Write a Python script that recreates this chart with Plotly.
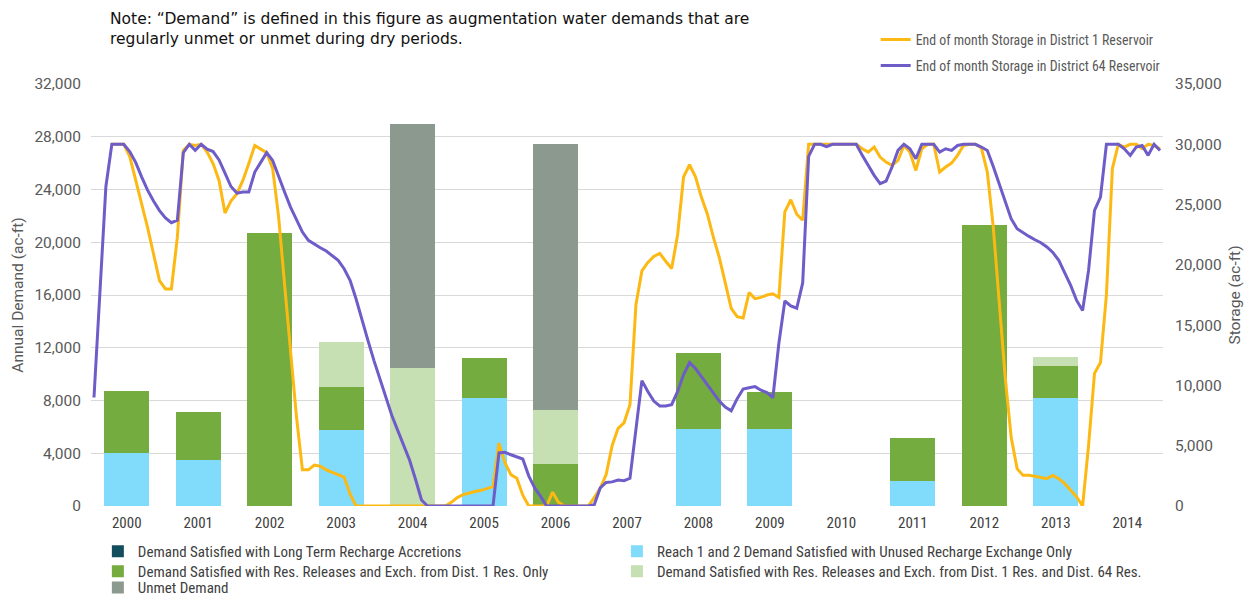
import plotly.graph_objects as go

years = [str(y) for y in range(2000, 2015)]

# Annual demand components (ac-ft)
long_term = [0] * 15
reach12 = [4040, 3490, 0, 5740, 0, 8165, 0, 0, 5840, 5815, 0, 1900, 0, 8210, 0]
dist1_only = [4680, 3610, 20720, 3260, 0, 3030, 3160, 0, 5740, 2850, 0, 3280, 21300, 2430, 0]
dist1_64 = [0, 0, 0, 3450, 10440, 0, 4120, 0, 0, 0, 0, 0, 0, 680, 0]
unmet = [0, 0, 0, 0, 18500, 0, 20190, 0, 0, 0, 0, 0, 0, 0, 0]

# End of month storage (ac-ft), Jan 2000 - Dec 2014
storage_d1 = [
    None, None, None, 30000, 30000, 30000, 29000, 27000, 25200, 23100, 20900, 18700,
    18000, 18000, 22300, 29500, 30000, 29900, 30000, 29350, 28400, 27000, 24300, 25300,
    25900, 27000, 28400, 29900, 29600, 29300, 28000, 24000, 18400, 12900, 7400, 3000,
    3000, 3400, 3300, 3000, 2800, 2650, 2400, 1000, 0, 0, 0, 0,
    0, 0, 0, 0, 0, 0, 0, 0, 0, 0, 0, 0,
    300, 700, 950, 1100, 1200, 1300, 1450, 1600, 5200, 3600, 2600, 2300,
    900, 0, 0, 0, 0, 1150, 300, 0, 0, 0, 0, 0,
    700, 1470, 2600, 5000, 6440, 6900, 8400, 16700, 19500, 20200, 20700, 20950,
    20300, 19700, 22500, 27300, 28300, 27300, 25600, 24200, 22300, 20600, 18500, 16400,
    15700, 15600, 17700, 17200, 17300, 17500, 17600, 17300, 24400, 25400, 24200, 23700,
    30000, 30000, 30000, 30000, 30000, 30000, 30000, 30000, 30000, 29630, 29350, 29770,
    28940, 28520, 28250, 28660, 29900, 29350, 27830, 29630, 30000, 30000, 27700, 28110,
    28440, 29080, 29900, 30000, 30000, 29700, 27700, 23130, 17050, 10700, 5720, 3100,
    2540, 2540, 2460, 2350, 2270, 2540, 2270, 1850, 1300, 750, 0, 5000,
    11000, 11900, 17500, 28000, 30000, 29770, 30000, 30000, 29630, 30000, 29900, 29600,
]
storage_d64 = [
    9000, 18000, 26500, 30000, 30000, 30000, 29400, 28500, 27300, 26200, 25300, 24500,
    23900, 23500, 23700, 29300, 30000, 29500, 30000, 29600, 29400, 28700, 27600, 26500,
    25950, 26050, 26050, 27700, 28500, 29300, 28660, 27280, 26040, 24790, 23690, 22720,
    22030, 21700, 21420, 21150, 20790, 20370, 19680, 18710, 17190, 15400, 13740, 12080,
    10560, 8900, 7520, 6270, 5030, 3790, 2200, 500, 0, 0, 0, 0,
    0, 0, 0, 0, 0, 0, 0, 0, 4400, 4450, 4250, 4100,
    3900, 2500, 1500, 800, 0, 0, 0, 0, 0, 0, 0, 0,
    100, 1500, 1950, 2000, 2150, 2100, 2300, 6500, 10400, 9500, 8700, 8300,
    8300, 8400, 9500, 10900, 11900, 11400, 10700, 10000, 9400, 8700, 8200, 7900,
    8900, 9700, 9800, 9900, 9600, 9400, 9000, 13500, 17000, 16600, 16400, 18500,
    29000, 30000, 30000, 29800, 30000, 30000, 30000, 30000, 30000, 29080, 28250, 27420,
    26730, 26950, 28110, 29490, 30000, 29630, 28800, 30000, 30000, 30000, 29350, 29630,
    29490, 29900, 30000, 30000, 30000, 29770, 29490, 28160, 26670, 25210, 23830, 23000,
    22660, 22360, 22080, 21840, 21480, 21030, 20370, 19400, 18300, 17050, 16220, 19540,
    24520, 25620, 30000, 30000, 30000, 29630, 29080, 29770, 29900, 29080, 30000, 29490,
]

year_pos = list(range(len(years)))
month_pos = [-0.5 + (m + 0.5) / 12 for m in range(len(storage_d64))]

NARROW = "Roboto Condensed, Liberation Sans Narrow, DejaVu Sans Condensed, sans-serif"
REG = "Roboto, Liberation Sans, Arial, sans-serif"
GRAY = "#595959"

fig = go.Figure()
# (name, values, colour, legend id)
bar_specs = [
    ("Demand Satisfied with Long Term Recharge Accretions", long_term, "#124E5E", "legend"),
    ("Reach 1 and 2 Demand Satisfied with Unused Recharge Exchange Only", reach12, "#80DCFA", "legend3"),
    ("Demand Satisfied with Res. Releases and Exch. from Dist. 1 Res. Only", dist1_only, "#74AC3F", "legend4"),
    ("Demand Satisfied with Res. Releases and Exch. from Dist. 1 Res. and Dist. 64 Res.", dist1_64, "#C6DFB3", "legend5"),
    ("Unmet Demand", unmet, "#8C998E", "legend6"),
]
for name, vals, col, leg in bar_specs:
    fig.add_trace(go.Bar(x=year_pos, y=vals, name=name, marker=dict(color=col, line=dict(width=0)),
                         width=0.63, legend=leg))

fig.add_trace(go.Scatter(x=month_pos, y=storage_d1, mode="lines", name="End of month Storage in District 1 Reservoir",
                         line=dict(color="#FDB913", width=3), yaxis="y2", legend="legend2", legendgroup="d1"))
fig.add_trace(go.Scatter(x=month_pos, y=storage_d64, mode="lines", name="End of month Storage in District 64 Reservoir",
                         line=dict(color="#6E5CC8", width=3), yaxis="y2", legend="legend2", legendgroup="d64"))


def bottom_legend(x, y):
    return dict(orientation="v", x=x, y=y, xanchor="left", yanchor="top",
                font=dict(family=NARROW, size=15, color="#404040"), bgcolor="rgba(0,0,0,0)")


fig.update_layout(
    width=1250, height=598,
    margin=dict(l=91, r=87, t=84, b=92, autoexpand=False),
    barmode="stack",
    plot_bgcolor="white", paper_bgcolor="white",
    font=dict(family=NARROW, color=GRAY, size=13),
    xaxis=dict(range=[-0.5, 14.5], tickmode="array", tickvals=year_pos, ticktext=years,
               showgrid=False, zeroline=False, showline=False, ticks="", ticklabelstandoff=6,
               tickfont=dict(family=NARROW, size=15, color="#404040")),
    yaxis=dict(range=[0, 32000], tickvals=list(range(0, 32001, 4000)), tickformat=",",
               showgrid=True, gridcolor="#D9D9D9", gridwidth=1, zeroline=False, ticklabelstandoff=9,
               title=dict(text="Annual Demand (ac-ft)", font=dict(family=REG, size=15.5, color=GRAY), standoff=6),
               tickfont=dict(family=REG, size=15.5, color=GRAY)),
    yaxis2=dict(range=[0, 35000], tickvals=list(range(0, 35001, 5000)), tickformat=",",
                overlaying="y", side="right", showgrid=False, zeroline=False, ticklabelstandoff=11,
                title=dict(text="Storage (ac-ft)", font=dict(family=REG, size=15.5, color=GRAY), standoff=8),
                tickfont=dict(family=REG, size=15.5, color=GRAY)),
    legend=bottom_legend(0.0064, -0.0687),
    legend3=bottom_legend(0.4906, -0.0687),
    legend4=bottom_legend(0.0064, -0.1161),
    legend5=bottom_legend(0.4906, -0.1161),
    legend6=bottom_legend(0.0064, -0.1545),
    legend2=dict(orientation="v", x=0.732, y=1.142, xanchor="left", yanchor="top",
                 font=dict(family=NARROW, size=13.8, color=GRAY), bgcolor="rgba(0,0,0,0)",
                 tracegroupgap=5),
    showlegend=True,
)

fig.add_annotation(
    text="Note: \u201cDemand\u201d is defined in this figure as augmentation water demands that are<br>regularly unmet or unmet during dry periods.",
    xref="paper", yref="paper", x=0.016, y=1.18, xanchor="left", yanchor="top", align="left",
    showarrow=False, font=dict(family="DejaVu Sans, Verdana, sans-serif", size=15.5, color="#111111"),
)

fig.write_html("out.html", config={"displayModeBar": False},
               post_script="document.body.style.margin='0px';")
